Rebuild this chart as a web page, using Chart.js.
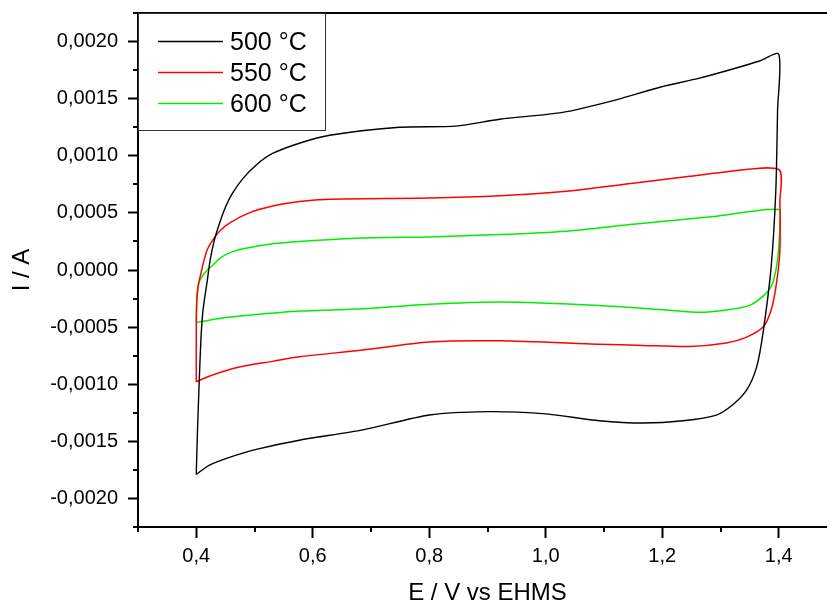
<!DOCTYPE html>
<html>
<head>
<meta charset="utf-8">
<script src="https://cdn.jsdelivr.net/npm/chart.js@4/dist/chart.umd.min.js"></script>
<style>
  html, body { margin: 0; padding: 0; background: #fff; overflow: hidden; }
  #cv { display: block; }
</style>
</head>
<body>
<canvas id="cv" width="837" height="605"></canvas>
<script>
// ------------------- DATA -------------------
const seriesLabels = ["500 °C", "550 °C", "600 °C"];

// 500 °C loop (start at lower-left, anodic sweep, then back)
const potential500 = [0.400, 0.402, 0.405, 0.408, 0.411, 0.414, 0.419, 0.424, 0.431, 0.440, 0.451, 0.462, 0.480, 0.503, 0.531, 0.577, 0.629, 0.749, 0.846, 0.921, 1.029, 1.121, 1.196, 1.264, 1.321, 1.367, 1.400,
                      1.398, 1.395, 1.387, 1.373, 1.362, 1.345, 1.321, 1.293, 1.236, 1.167, 1.092, 1.000, 0.900, 0.800, 0.686, 0.577, 0.503, 0.457, 0.422, 0.400];
const current500 = [-0.00179, -0.00143, -0.00099, -0.00061, -0.00038, -0.00026, -0.00009, 0.00009, 0.00026, 0.00041, 0.00056, 0.00067, 0.00080, 0.00092, 0.00102, 0.00111, 0.00118, 0.00125, 0.00126, 0.00132, 0.00138, 0.00149, 0.00160, 0.00168, 0.00176, 0.00183, 0.00189,
                    0.00140, 0.00070, 0.00003, -0.00055, -0.00085, -0.00105, -0.00118, -0.00127, -0.00132, -0.00134, -0.00132, -0.00126, -0.00124, -0.00127, -0.00140, -0.00149, -0.00157, -0.00164, -0.00171, -0.00179];

// 550 °C loop
const potential550 = [0.400, 0.400, 0.401, 0.404, 0.408, 0.413, 0.419, 0.428, 0.440, 0.457, 0.491, 0.531, 0.577, 0.629, 0.800, 0.921, 1.035, 1.150, 1.247, 1.293, 1.400,
                      1.402, 1.402, 1.396, 1.387, 1.373, 1.344, 1.310, 1.247, 1.167, 1.092, 0.921, 0.800, 0.686, 0.577, 0.531, 0.474, 0.422, 0.400];
const current550 = [-0.00098, -0.00056, -0.00026, -0.00012, -0.00003, 0.00008, 0.00018, 0.00026, 0.00034, 0.00041, 0.00050, 0.00056, 0.00060, 0.00062, 0.00063, 0.00065, 0.00069, 0.00076, 0.00082, 0.00085, 0.00088,
                    0.00060, 0.00018, -0.00012, -0.00035, -0.00050, -0.00059, -0.00064, -0.00067, -0.00066, -0.00065, -0.00062, -0.00063, -0.00070, -0.00076, -0.00080, -0.00085, -0.00093, -0.00098];

// 600 °C loop
const potential600 = [0.400, 0.401, 0.404, 0.411, 0.419, 0.428, 0.440, 0.457, 0.485, 0.531, 0.577, 0.686, 0.800, 0.921, 1.035, 1.150, 1.293, 1.400,
                      1.402, 1.401, 1.398, 1.390, 1.379, 1.350, 1.310, 1.264, 1.207, 1.092, 0.921, 0.800, 0.686, 0.577, 0.503, 0.445, 0.400];
const current600 = [-0.00046, -0.00026, -0.00012, -0.00005, 0.00000, 0.00004, 0.00010, 0.00015, 0.00019, 0.00023, 0.00025, 0.00028, 0.00029, 0.00031, 0.00034, 0.00040, 0.00047, 0.00053,
                    0.00040, 0.00028, 0.00009, -0.00011, -0.00020, -0.00031, -0.00035, -0.00037, -0.00035, -0.00031, -0.00028, -0.00030, -0.00034, -0.00036, -0.00039, -0.00042, -0.00046];

// axis ticks
const xTicks = [0.4, 0.6, 0.8, 1.0, 1.2, 1.4];
const xMinorTicks = [0.3, 0.5, 0.7, 0.9, 1.1, 1.3, 1.5];
const yTicks = [-0.0020, -0.0015, -0.0010, -0.0005, 0.0000, 0.0005, 0.0010, 0.0015, 0.0020];
const yMinorTicks = [-0.00225, -0.00175, -0.00125, -0.00075, -0.00025, 0.00025, 0.00075, 0.00125, 0.00175, 0.00225];

const FONT = "'Liberation Sans', Arial, sans-serif";

function toPoints(xs, ys) {
    return xs.map((x, i) => ({ x: x, y: ys[i] }));
}

function commaFmt(v, digits) {
    return v.toFixed(digits).replace('.', ',');
}

// fixed plot box, no automatic label padding
function fixPadding(s) {
    s.paddingTop = 0;
    s.paddingBottom = 0;
    s.paddingLeft = 0;
    s.paddingRight = 0;
}

// ------------------- FRAME, MINOR TICKS, LEGEND -------------------
const framePlugin = {
    id: 'frame',
    afterDraw(chart) {
        const ctx = chart.ctx;
        const a = chart.chartArea;
        const xs = chart.scales.x, ys = chart.scales.y;

        ctx.save();
        ctx.strokeStyle = '#000';
        ctx.lineWidth = 2;
        ctx.beginPath();
        xMinorTicks.forEach(v => {
            const px = Math.round(xs.getPixelForValue(v));
            ctx.moveTo(px, a.bottom);
            ctx.lineTo(px, a.bottom + 5);
        });
        yMinorTicks.forEach(v => {
            const py = Math.round(ys.getPixelForValue(v));
            ctx.moveTo(a.left, py);
            ctx.lineTo(a.left - 5, py);
        });
        // top edge of the frame
        ctx.moveTo(a.left - 1, a.top);
        ctx.lineTo(a.right, a.top);
        ctx.stroke();

        // legend box
        const box = { x: a.left, y: a.top, w: 187, h: 117 };
        ctx.fillStyle = '#fff';
        ctx.fillRect(box.x + 1, box.y + 1, box.w - 1, box.h - 1);
        ctx.lineWidth = 1;
        ctx.strokeStyle = '#333';
        ctx.strokeRect(box.x + 0.5, box.y + 0.5, box.w, box.h);

        ctx.font = "25px " + FONT;
        ctx.textBaseline = 'alphabetic';
        ctx.fillStyle = '#000';
        chart.data.datasets.forEach((ds, i) => {
            const ly = box.y + 28.5 + i * 31;
            ctx.strokeStyle = ds.borderColor;
            ctx.lineWidth = 1.3;
            ctx.beginPath();
            ctx.moveTo(box.x + 20, ly);
            ctx.lineTo(box.x + 85, ly);
            ctx.stroke();
            ctx.fillText(ds.label, box.x + 92, ly + 8.5);
        });
        ctx.restore();
    }
};

// ------------------- CHART -------------------
const ctx = document.getElementById('cv').getContext('2d');

new Chart(ctx, {
    type: 'scatter',
    data: {
        datasets: [
            { label: seriesLabels[0], data: toPoints(potential500, current500), borderColor: '#000000', borderWidth: 1.4 },
            { label: seriesLabels[1], data: toPoints(potential550, current550), borderColor: '#ff0000', borderWidth: 1.5 },
            { label: seriesLabels[2], data: toPoints(potential600, current600), borderColor: '#00ee00', borderWidth: 1.5 }
        ].map(ds => Object.assign(ds, {
            showLine: true,
            pointRadius: 0,
            fill: false,
            tension: 0.25
        }))
    },
    options: {
        responsive: false,
        animation: false,
        devicePixelRatio: 1,
        layout: { padding: { top: 13, left: 0, right: 0, bottom: 0 } },
        plugins: {
            legend: { display: false },
            tooltip: { enabled: false }
        },
        scales: {
            x: {
                type: 'linear',
                position: 'bottom',
                min: 0.3,
                max: 1.5,
                afterBuildTicks: s => { s.ticks = xTicks.map(v => ({ value: v })); },
                afterFit: s => { s.height = 78; fixPadding(s); },
                grid: { drawOnChartArea: false, drawTicks: true, tickLength: 11, tickWidth: 2, tickColor: '#000' },
                border: { display: true, color: '#000', width: 2 },
                ticks: {
                    color: '#000',
                    padding: 6,
                    maxRotation: 0,
                    autoSkip: false,
                    font: { family: FONT, size: 20 },
                    callback: v => commaFmt(v, 1)
                },
                title: {
                    display: true,
                    text: 'E / V vs EHMS',
                    color: '#000',
                    font: { family: FONT, size: 24, lineHeight: 1 },
                    padding: { top: 0, bottom: 0 }
                }
            },
            y: {
                type: 'linear',
                position: 'left',
                min: -0.00225,
                max: 0.00225,
                afterBuildTicks: s => { s.ticks = yTicks.map(v => ({ value: v })); },
                afterFit: s => { s.width = 138; fixPadding(s); },
                grid: { drawOnChartArea: false, drawTicks: true, tickLength: 10, tickWidth: 2, tickColor: '#000' },
                border: { display: true, color: '#000', width: 2 },
                ticks: {
                    color: '#000',
                    padding: 10,
                    font: { family: FONT, size: 20 },
                    callback: v => commaFmt(v, 4)
                },
                title: {
                    display: true,
                    text: 'I / A',
                    color: '#000',
                    font: { family: FONT, size: 24, lineHeight: 1 },
                    padding: { top: 10, bottom: 0 }
                }
            }
        }
    },
    plugins: [framePlugin]
});
</script>
</body>
</html>
